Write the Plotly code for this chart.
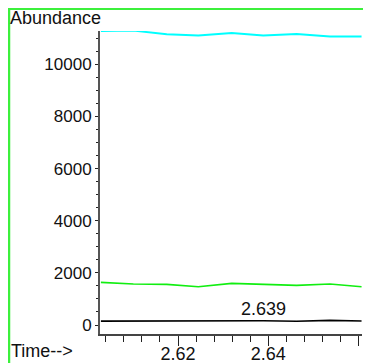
import plotly.graph_objects as go

# scan times (min) and abundances
times = [2.6029, 2.6101, 2.6175, 2.6245, 2.6319, 2.6389, 2.6463, 2.6537, 2.6607]
cyan_trace = [11276, 11291, 11149, 11100, 11199, 11100, 11161, 11061, 11061]
green_trace = [1636, 1571, 1559, 1467, 1598, 1559, 1521, 1571, 1467]
black_trace = [150, 150, 152, 175, 152, 165, 142, 178, 152]

y_ticks = [0, 2000, 4000, 6000, 8000, 10000]
y_labels = ["0", "2000", "4000", "6000", "8000", "10000"]
x_ticks = [2.62, 2.64, 2.66]
x_labels = ["2.62", "2.64", ""]
peak_label = "2.639"
peak_time = 2.6389

# the page body adds an 8px margin, so the figure is 8px smaller than the window
# and every screen position is shifted by 8px
OFF = 8
W, H = 371 - OFF, 363 - OFF
L, R, T, B = 100 - OFF, 9, 31 - OFF, 29
PW, PH = W - L - R, H - T - B


def px(x):
    # screen x -> paper x
    return (x - OFF - L) / PW


def py(y):
    # screen y -> paper y
    return (H - B - (y - OFF)) / PH


FONT = "Liberation Sans, Arial, sans-serif"

fig = go.Figure()
fig.add_trace(go.Scatter(x=times, y=cyan_trace, mode="lines",
                         line=dict(color="#00ffff", width=2)))
fig.add_trace(go.Scatter(x=times, y=green_trace, mode="lines",
                         line=dict(color="#11ee11", width=1.6)))
fig.add_trace(go.Scatter(x=times, y=black_trace, mode="lines",
                         line=dict(color="#000000", width=1.6)))

green = "#3cf03c"
fig.update_layout(
    width=W, height=H,
    margin=dict(l=L, r=R, t=T, b=B),
    paper_bgcolor="white", plot_bgcolor="white",
    showlegend=False,
    font=dict(family=FONT, size=17, color="#111"),
    xaxis=dict(range=[2.6027, 2.6608], tickmode="array", tickvals=x_ticks, ticktext=x_labels,
               ticks="outside", ticklen=10, tickcolor="#222", showgrid=False, zeroline=False,
               showline=True, linecolor="#444", linewidth=1.5, automargin=False,
               tickfont=dict(size=18), ticklabelstandoff=-7,
               minor=dict(tick0=2.6, dtick=0.004, ticks="outside", ticklen=6, tickcolor="#222")),
    yaxis=dict(range=[-345, 11276], tickmode="array", tickvals=y_ticks, ticktext=y_labels,
               ticks="outside", ticklen=3, tickcolor="#222", showgrid=False, zeroline=False,
               showline=True, linecolor="#555", linewidth=2, automargin=False,
               tickfont=dict(size=17),
               minor=dict(tick0=0, dtick=500, ticks="outside", ticklen=2, tickcolor="#222")),
    shapes=[
        dict(type="line", xref="paper", yref="paper", x0=px(9), x1=px(9), y0=py(8), y1=py(363),
             line=dict(color=green, width=2.5)),
        dict(type="line", xref="paper", yref="paper", x0=px(8), x1=px(371), y0=py(9), y1=py(9),
             line=dict(color=green, width=2)),
        dict(type="line", xref="paper", yref="paper", x0=px(370), x1=px(370), y0=py(9), y1=py(363),
             line=dict(color="#90f090", width=1)),
    ],
    annotations=[
        dict(text="Abundance", xref="paper", yref="paper", x=px(8), y=py(18),
             xanchor="left", yanchor="middle", showarrow=False, font=dict(size=18)),
        dict(text="Time-->", xref="paper", yref="paper", x=px(9), y=py(363),
             xanchor="left", yanchor="bottom", showarrow=False, font=dict(size=18)),
        dict(text=peak_label, x=peak_time, y=black_trace[5], xanchor="center", yanchor="bottom",
             showarrow=False, font=dict(size=18)),
    ],
)

fig.write_html("out.html")
